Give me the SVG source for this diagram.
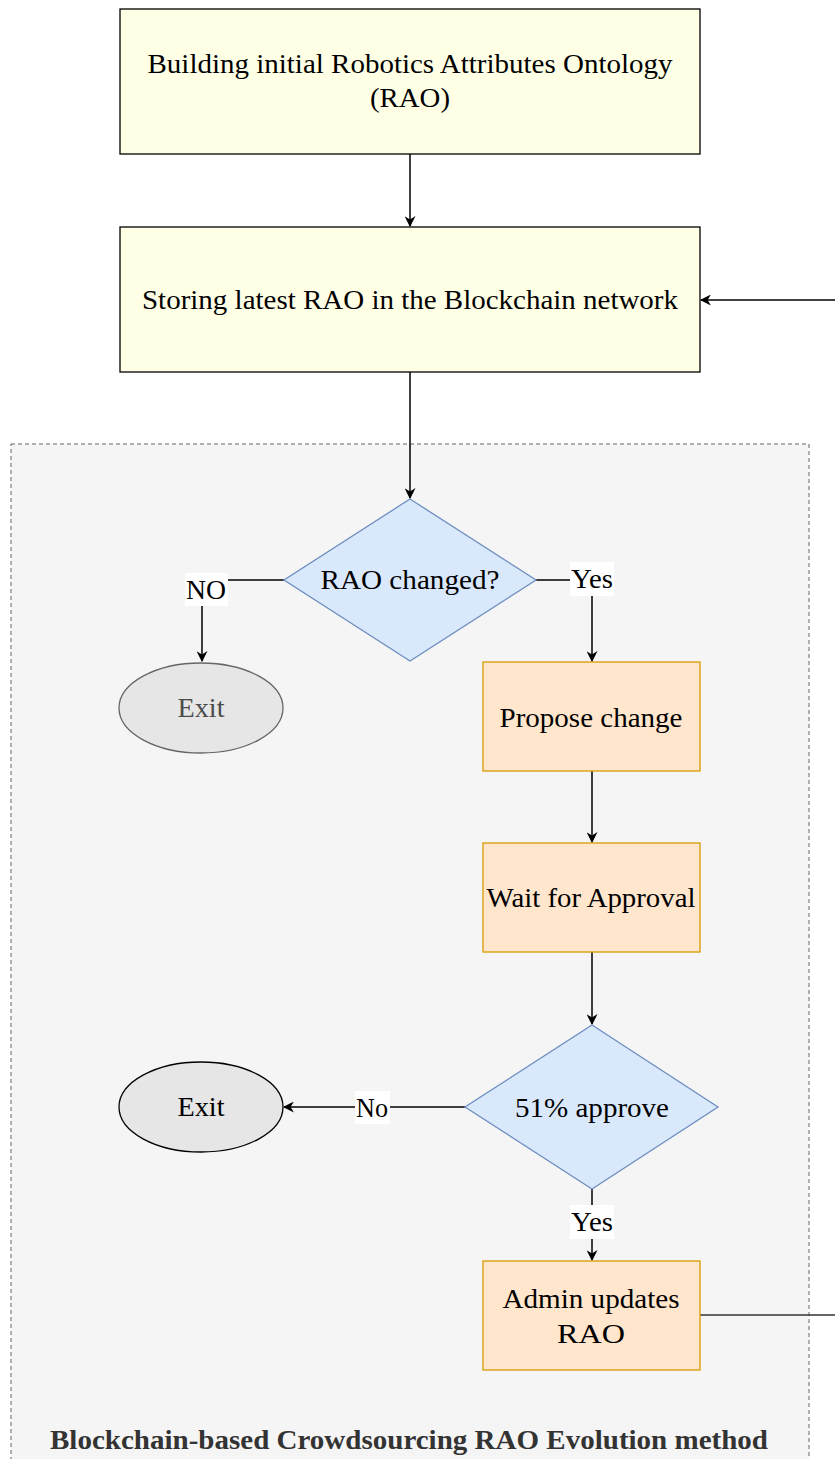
<svg xmlns="http://www.w3.org/2000/svg" width="835" height="1459" viewBox="0 0 835 1459">
  <style>
    text { font-size: 27px; fill: #000; text-anchor: middle; dominant-baseline: central; }
    .yellow { fill: #ffffe6; stroke: #000; stroke-width: 1.3; }
    .orange { fill: #ffe6cc; stroke: #d79b00; stroke-width: 1.3; }
    .blue { fill: #dae8fc; stroke: #6c8ebf; stroke-width: 1.3; }
    .grey { fill: #e6e6e6; stroke: #666; stroke-width: 1.3; }
    .edge { fill: none; stroke: #000; stroke-width: 1.5; }
    .lbl { fill: #fff; }
    .title { font-weight: bold; fill: #333; font-size: 27px; }
  </style>
  <defs>
    <marker id="arrow" viewBox="0 0 10 10" refX="9" refY="5" markerWidth="11" markerHeight="11" markerUnits="userSpaceOnUse" orient="auto">
      <path d="M0,0 L10,5 L0,10 L3,5 Z" fill="#000"/>
    </marker>
  </defs>

  <rect width="835" height="1459" fill="#fff"/>

  <g font-family="'Liberation Serif', Tinos, 'Times New Roman', Times, 'Noto Serif', 'DejaVu Serif', serif">

  <!-- dashed container for the crowdsourcing evolution method -->
  <g id="container">
    <rect x="11" y="444" width="798" height="1030" fill="#f5f5f5" stroke="#666" stroke-width="1" stroke-dasharray="4,3"/>
    <text x="409" y="1440" class="title" textLength="718" lengthAdjust="spacingAndGlyphs">Blockchain-based Crowdsourcing RAO Evolution method</text>
  </g>

  <g id="connectors">
    <path class="edge" d="M410,154 V226" marker-end="url(#arrow)"/>
    <path class="edge" d="M410,372 V498" marker-end="url(#arrow)"/>
    <path class="edge" d="M284,580 H202 V661" marker-end="url(#arrow)"/>
    <path class="edge" d="M536,580 H592 V661" marker-end="url(#arrow)"/>
    <path class="edge" d="M592,771 V842" marker-end="url(#arrow)"/>
    <path class="edge" d="M592,952 V1024" marker-end="url(#arrow)"/>
    <path class="edge" d="M465,1107 H284" marker-end="url(#arrow)"/>
    <path class="edge" d="M592,1189 V1260" marker-end="url(#arrow)"/>
    <path d="M700,1315 H835" fill="none" stroke="#333" stroke-width="1.5"/>
    <path class="edge" d="M835,300 H701" marker-end="url(#arrow)"/>
    <!-- edge labels on white backgrounds -->
    <rect class="lbl" x="185" y="573" width="43" height="33"/>
    <text x="206" y="590" textLength="40" lengthAdjust="spacingAndGlyphs">NO</text>
    <rect class="lbl" x="570" y="562" width="44" height="34"/>
    <text x="592" y="579" textLength="42" lengthAdjust="spacingAndGlyphs">Yes</text>
    <rect class="lbl" x="355" y="1091" width="35" height="33"/>
    <text x="372" y="1108" textLength="32" lengthAdjust="spacingAndGlyphs">No</text>
    <rect class="lbl" x="570" y="1205" width="44" height="34"/>
    <text x="592" y="1222" textLength="42" lengthAdjust="spacingAndGlyphs">Yes</text>
  </g>

  <g id="build-rao">
    <rect class="yellow" x="120" y="9" width="580" height="145"/>
    <text x="410" y="64" textLength="525" lengthAdjust="spacingAndGlyphs">Building initial Robotics Attributes Ontology</text>
    <text x="410" y="98" textLength="80" lengthAdjust="spacingAndGlyphs">(RAO)</text>
  </g>

  <g id="store-rao">
    <rect class="yellow" x="120" y="227" width="580" height="145"/>
    <text x="410" y="300" textLength="536" lengthAdjust="spacingAndGlyphs">Storing latest RAO in the Blockchain network</text>
  </g>

  <g id="rao-changed">
    <polygon class="blue" points="410,499 536,580 410,661 284,580"/>
    <text x="410" y="580" textLength="179" lengthAdjust="spacingAndGlyphs">RAO changed?</text>
  </g>

  <g id="exit-1">
    <ellipse class="grey" cx="201" cy="708" rx="82" ry="45"/>
    <text x="201" y="708" style="fill:#4d4d4d" textLength="47" lengthAdjust="spacingAndGlyphs">Exit</text>
  </g>

  <g id="propose-change">
    <rect class="orange" x="483" y="662" width="217" height="109"/>
    <text x="591" y="718" textLength="183" lengthAdjust="spacingAndGlyphs">Propose change</text>
  </g>

  <g id="wait-approval">
    <rect class="orange" x="483" y="843" width="217" height="109"/>
    <text x="591" y="898" textLength="209" lengthAdjust="spacingAndGlyphs">Wait for Approval</text>
  </g>

  <g id="approve-51">
    <polygon class="blue" points="592,1025 718,1107 592,1189 465,1107"/>
    <text x="592" y="1108" textLength="154" lengthAdjust="spacingAndGlyphs">51% approve</text>
  </g>

  <g id="exit-2">
    <ellipse cx="201" cy="1107" rx="82" ry="45" fill="#e6e6e6" stroke="#000" stroke-width="1.3"/>
    <text x="201" y="1107" textLength="47" lengthAdjust="spacingAndGlyphs">Exit</text>
  </g>

  <g id="admin-update">
    <rect class="orange" x="483" y="1261" width="217" height="109"/>
    <text x="591" y="1299" textLength="177" lengthAdjust="spacingAndGlyphs">Admin updates</text>
    <text x="591" y="1334" textLength="68" lengthAdjust="spacingAndGlyphs">RAO</text>
  </g>

  </g>
</svg>
